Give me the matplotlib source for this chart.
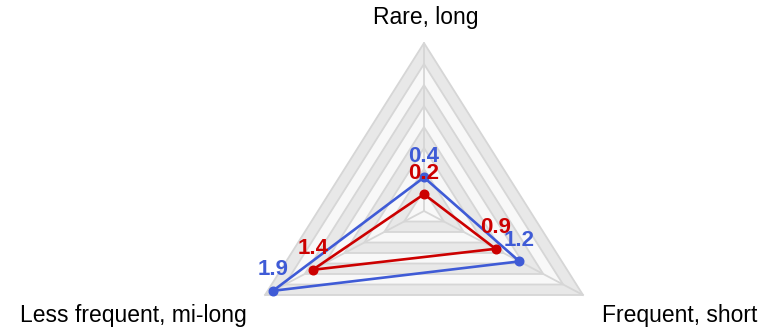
import numpy as np
import matplotlib
matplotlib.use("Agg")
import matplotlib.pyplot as plt

plt.rcParams["font.family"] = ["Liberation Sans", "DejaVu Sans"]

# data
categories = ["Rare, long", "Frequent, short", "Less frequent, mi-long"]
blue_values = [0.4, 1.2, 1.9]
red_values = [0.2, 0.9, 1.4]
max_value = 2.0
levels = 8

BLUE = "#3f5bd6"
RED = "#cc0000"
GRID = "#d6d6d6"
BAND_DARK = "#e8e8e8"
BAND_LIGHT = "#f8f8f8"

# angles clockwise from top
angles = np.deg2rad([0, 120, 240])


def to_xy(values):
    r = np.asarray(values) / max_value
    return r * np.sin(angles), r * np.cos(angles)


fig = plt.figure(figsize=(7.62, 3.30), dpi=100)
ax = fig.add_axes([0, 0, 1, 1])
ax.axis("off")
# map radar unit coords to the frame (slightly wider than tall)
ax.set_xlim(-424 / 183.6, (762 - 424) / 183.6)
ax.set_ylim((211 - 330) / 168.0, 211 / 168.0)

# grid bands, outer first
for k in range(levels, 0, -1):
    gx, gy = to_xy([max_value * k / levels] * 3)
    color = BAND_DARK if k % 2 == 0 else BAND_LIGHT
    ax.fill(gx, gy, facecolor=color, edgecolor=GRID, linewidth=1.3, zorder=1)

vx, vy = to_xy([max_value] * 3)
for x, y in zip(vx, vy):
    ax.plot([0, x], [0, y], color=GRID, linewidth=1.3, zorder=2)

# series
for values, color in [(blue_values, BLUE), (red_values, RED)]:
    sx, sy = to_xy(values)
    ax.plot(np.append(sx, sx[0]), np.append(sy, sy[0]), color=color,
            linewidth=1.9, zorder=3)
    ax.plot(sx, sy, "o", color=color, markersize=6.2, zorder=4)

for values, color in [(blue_values, BLUE), (red_values, RED)]:
    sx, sy = to_xy(values)
    for x, y, v in zip(sx, sy, values):
        ax.annotate(f"{v:g}", (x, y), xytext=(0, 21), textcoords="offset pixels",
                    ha="center", va="center", color=color, fontsize=16,
                    fontweight="bold", zorder=5)

# axis names
ax.annotate(categories[0], (vx[0], vy[0]), xytext=(2, 19),
            textcoords="offset pixels", ha="center", va="baseline",
            fontsize=16.5, color="black")
ax.annotate(categories[1], (vx[1], vy[1]), xytext=(19, -27),
            textcoords="offset pixels", ha="left", va="baseline",
            fontsize=16.5, color="black")
ax.annotate(categories[2], (vx[2], vy[2]), xytext=(-18, -27),
            textcoords="offset pixels", ha="right", va="baseline",
            fontsize=16.5, color="black")

fig.savefig("out.png", dpi=100)
